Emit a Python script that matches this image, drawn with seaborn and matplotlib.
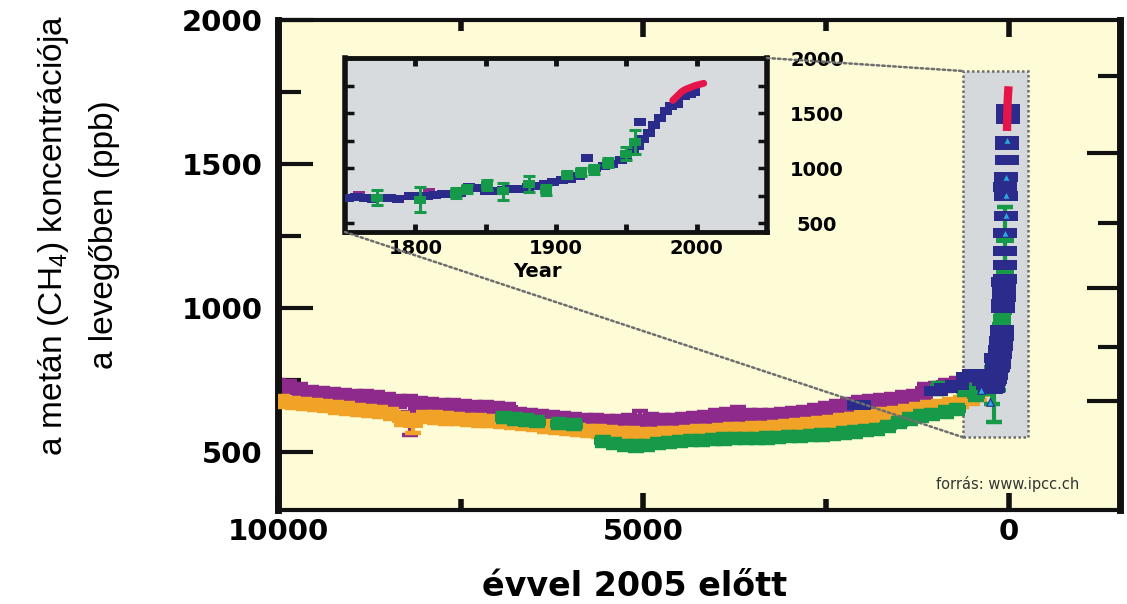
import matplotlib
matplotlib.use("Agg")
import matplotlib.pyplot as plt
from matplotlib.path import Path
from matplotlib.markers import MarkerStyle
from matplotlib.patches import Rectangle, ConnectionPatch
import pandas as pd
import seaborn as sns

# ---------------------------------------------------------------------------
# Methane records: years before 2005, concentration (ppb), error half-width
# ---------------------------------------------------------------------------
purple_bp = [10000, 9850, 9700, 9550, 9400, 9250, 9100, 8950, 8800, 8650,
             8500, 8350, 8200, 8050, 7900, 7750, 7600, 7450, 7300, 7150,
             7000, 6850, 6700, 6550, 6400, 6250, 6100, 5950, 5800, 5650,
             5500, 5350, 5200, 5050, 4900, 4750, 4600, 4450, 4300, 4150,
             4000, 3850, 3700, 3550, 3400, 3250, 3100, 2950, 2800, 2650,
             2500, 2350, 2200, 2050, 1900, 1750, 1600, 1450, 1300, 1150,
             1000, 850, 700, 580, 245, 195]
purple_ppb = [728, 726, 718, 708, 703, 700, 697, 694, 692, 688,
              684, 676, 628, 668, 665, 662, 660, 658, 656, 653,
              651, 648, 632, 628, 624, 621, 615, 612, 610, 608,
              607, 606, 610, 616, 612, 610, 611, 613, 615, 620,
              626, 630, 632, 628, 626, 628, 630, 633, 638, 644,
              650, 658, 666, 672, 676, 680, 684, 688, 694, 712,
              722, 732, 738, 742, 752, 782]
purple_err = [22, 20, 20, 20, 20, 20, 20, 20, 20, 20,
              20, 20, 68, 20, 20, 20, 20, 20, 20, 20,
              20, 20, 20, 20, 20, 20, 20, 20, 20, 20,
              20, 20, 20, 28, 20, 20, 20, 20, 20, 20,
              20, 20, 26, 20, 20, 20, 20, 20, 20, 20,
              20, 20, 20, 20, 20, 20, 20, 20, 20, 24,
              20, 20, 20, 20, 12, 12]

orange_bp = [9950, 9800, 9650, 9500, 9350, 9200, 9050, 8900, 8750, 8600,
             8450, 8300, 8150, 8000, 7850, 7700, 7550, 7400, 7250, 7100,
             6950, 6800, 6650, 6500, 6350, 6200, 6050, 5900, 5750, 5600,
             5450, 5300, 5150, 5000, 4850, 4700, 4550, 4400, 4250, 4100,
             3950, 3800, 3650, 3500, 3350, 3200, 3050, 2900, 2750, 2600,
             2450, 2300, 2150, 2000, 1850, 1700, 1550, 1400, 1250, 1100,
             950, 800, 650, 500, 400, 300]
orange_ppb = [676, 672, 668, 664, 660, 656, 652, 648, 644, 640,
              634, 616, 598, 622, 621, 618, 616, 613, 611, 608,
              606, 602, 598, 594, 590, 586, 582, 578, 575, 572,
              569, 567, 565, 564, 564, 565, 567, 569, 572, 575,
              577, 579, 581, 583, 585, 588, 591, 594, 598, 602,
              606, 611, 616, 621, 626, 631, 637, 643, 649, 655,
              661, 667, 675, 688, 705, 745]
orange_err = [18, 18, 18, 18, 18, 18, 18, 18, 18, 18,
              18, 22, 30, 18, 18, 18, 18, 18, 18, 18,
              18, 18, 18, 18, 18, 18, 18, 18, 18, 18,
              18, 18, 18, 18, 18, 18, 18, 18, 18, 18,
              18, 18, 18, 18, 18, 18, 18, 18, 18, 18,
              18, 18, 18, 18, 18, 18, 18, 18, 18, 18,
              18, 18, 18, 20, 22, 25]

green_bp = [6900, 6750, 6600, 6450, 6150, 5950, 5550, 5400, 5250, 5100,
            4950, 4800, 4650, 4500, 4350, 4200, 4050, 3900, 3750, 3600,
            3450, 3300, 3150, 3000, 2850, 2700, 2550, 2400, 2250, 2100,
            1950, 1800, 1650, 1500, 1350, 1200, 1050, 950, 850, 700,
            600, 450, 350, 232, 202, 176, 168, 154, 143, 124,
            112, 97, 87, 78, 68, 55, 49]
green_ppb = [620, 616, 612, 607, 600, 596, 538, 530, 525, 522,
             525, 531, 535, 538, 540, 542, 544, 546, 547, 548,
             549, 550, 552, 554, 556, 558, 560, 563, 567, 571,
             575, 580, 590, 603, 616, 626, 632, 722, 640, 650,
             716, 700, 722, 732, 715, 775, 810, 850, 790, 855,
             805, 940, 965, 990, 1050, 1130, 1240]
green_err = [16, 16, 16, 16, 16, 16, 16, 16, 16, 16,
             16, 16, 16, 16, 16, 16, 16, 16, 16, 16,
             16, 16, 16, 16, 16, 16, 16, 16, 16, 16,
             16, 16, 16, 16, 16, 16, 16, 20, 16, 16,
             18, 18, 18, 65, 110, 45, 40, 45, 75, 70,
             45, 30, 40, 40, 40, 60, 110]

blue_bp = [2050, 1000, 850, 700, 560, 480, 400, 330, 280,
           253, 247, 241, 235, 229, 223, 217, 209, 203, 197,
           191, 185, 179, 173, 167, 161, 155, 149, 143, 137,
           131, 125, 119, 113, 107, 101, 95, 89, 83, 77,
           71, 65, 59, 55, 50, 47, 45, 43, 39, 35,
           31, 27, 23, 19, 14, 10, 7]
blue_ppb = [665, 712, 724, 735, 760, 772, 765, 748, 735,
            725, 735, 728, 720, 730, 725, 722, 745, 750, 748,
            755, 762, 768, 772, 828, 822, 792, 796, 800, 808,
            815, 825, 840, 855, 870, 888, 905, 925, 1090, 1000,
            1015, 1040, 1075, 1100, 1150, 1200, 1420, 1260, 1320, 1390,
            1455, 1515, 1565, 1580, 1655, 1672, 1690]

cyan_bp = [380, 260, 43, 39, 35, 31, 19]
cyan_ppb = [718, 676, 1262, 1322, 1392, 1455, 1583]

red_bp = [22, 20, 18, 16, 14, 12, 10, 8, 6, 4, 2, 0]
red_ppb = [1615, 1640, 1665, 1690, 1708, 1720, 1730, 1740, 1750, 1757,
           1763, 1770]

# axis ticks
main_xticks = [10000, 5000, 0]
main_xticklabels = ["10000", "5000", "0"]
main_xminor = [7500, 2500]
main_yticks = [500, 1000, 1500, 2000]
main_yminor = [750, 1250, 1750]
forcing_major_ppb = [677, 1070, 1538]
forcing_minor_ppb = [865, 1295, 1806]
inset_xticks = [1800, 1900, 2000]
inset_xminor = [1850, 1950]
inset_yticks = [500, 1000, 1500, 2000]
inset_yminor = [750, 1250, 1750]

REF_YEAR = 2005

# ---------------------------------------------------------------------------
sns.set_style("ticks")
plt.rcParams["font.family"] = ["DejaVu Sans"]
plt.rcParams["mathtext.fontset"] = "custom"
plt.rcParams["mathtext.rm"] = "Liberation Sans"
plt.rcParams["mathtext.it"] = "Liberation Sans:italic"
plt.rcParams["mathtext.bf"] = "Liberation Sans:bold"
for key in ("text.color", "axes.labelcolor", "xtick.color", "ytick.color"):
    plt.rcParams[key] = "black"

PURPLE = "#8E2A8C"
ORANGE = "#F0A326"
GREEN = "#17994A"
BLUE = "#2B2B8C"
RED = "#E5154A"
CYAN = "#2AAAE0"
PAPER = "#FEFCD6"
INSET_BG = "#D8DBDE"
INK = "#111111"


def flat_marker(ratio):
    """Filled rectangle marker, 'ratio' = height / width."""
    h = ratio
    return MarkerStyle(Path([(-1, -h), (1, -h), (1, h), (-1, h), (-1, -h)],
                            [Path.MOVETO, Path.LINETO, Path.LINETO,
                             Path.LINETO, Path.CLOSEPOLY]))


wide = flat_marker(0.45)
wide_in = flat_marker(0.6)


def frame(bp, ppb, err=None):
    df = pd.DataFrame({"bp": bp, "ppb": ppb})
    df["year"] = REF_YEAR - df["bp"]
    df["err"] = err if err is not None else 0
    return df


purple = frame(purple_bp, purple_ppb, purple_err)
orange = frame(orange_bp, orange_ppb, orange_err)
green = frame(green_bp, green_ppb, green_err)
blue = frame(blue_bp, blue_ppb)
cyan = frame(cyan_bp, cyan_ppb)
red = frame(red_bp, red_ppb)

W, H = 1127, 604
fig = plt.figure(figsize=(W / 100, H / 100), dpi=100)
fig.patch.set_facecolor("white")

# main panel
ax = fig.add_axes([278 / W, (H - 510) / H, 842 / W, 490 / H])
ax.set_facecolor(PAPER)

# zoom region of the last centuries
ax.add_patch(Rectangle((620, 552), -885, 1271, facecolor="#D6D9DC",
                       edgecolor="#6E6E6E", linestyle=(0, (1, 1)), linewidth=1.8,
                       zorder=1))

band_series = [
    (purple, PURPLE, 15 ** 2, 2),
    (orange, ORANGE, 14 ** 2, 3),
    (green, GREEN, 13 ** 2, 4),
]
for df, color, size, z in band_series:
    ax.errorbar(df["bp"], df["ppb"], yerr=df["err"], fmt="none", ecolor=color,
                elinewidth=3, capsize=6, capthick=3.2, zorder=z)
    sns.scatterplot(data=df, x="bp", y="ppb", ax=ax, color=color, marker=wide,
                    s=size, linewidth=0, zorder=z + 0.1, legend=False)

sns.scatterplot(data=blue, x="bp", y="ppb", ax=ax, color=BLUE, marker=wide,
                s=17 ** 2, linewidth=0, zorder=5, legend=False)
sns.scatterplot(data=cyan, x="bp", y="ppb", ax=ax, color=CYAN, marker="^",
                s=30, edgecolor=BLUE, linewidth=0.8, zorder=5.5, legend=False)
sns.lineplot(data=red, x="bp", y="ppb", ax=ax, color=RED, linewidth=6,
             solid_capstyle="butt", zorder=6, legend=False)

ax.set_xlim(10000, -1525)
ax.set_ylim(300, 2000)

ax.set_xticks(main_xticks, main_xticklabels, fontsize=21, fontweight="bold")
ax.set_xticks(main_xminor, minor=True)
ax.set_yticks(main_yticks, [str(v) for v in main_yticks], fontsize=21,
              fontweight="bold")
ax.set_yticks(main_yminor, minor=True)
ax.tick_params(axis="x", which="major", direction="in", length=12.5, width=4,
               top=True, bottom=True, pad=6, color=INK)
ax.tick_params(axis="x", which="minor", direction="in", length=8, width=4,
               top=True, bottom=True, color=INK)
ax.tick_params(axis="y", which="major", direction="in", length=25, width=3,
               left=True, right=False, pad=11, color=INK)
ax.tick_params(axis="y", which="minor", direction="in", length=16.5, width=3,
               left=True, right=False, color=INK)
for side in ("left", "right"):
    ax.spines[side].set_linewidth(5)
for side in ("top", "bottom"):
    ax.spines[side].set_linewidth(3)
for sp in ax.spines.values():
    sp.set_color(INK)
ax.spines["right"].set_visible(False)

ax.set_xlabel("évvel 2005 előtt", fontsize=24, fontweight="bold")
ax.xaxis.set_label_coords(0.424, -0.122)
ax.set_ylabel("a metán (CH$_4$) koncentrációja\na levegőben (ppb)",
              fontsize=24, family="Liberation Sans", fontweight="normal",
              linespacing=1.75)
ax.yaxis.set_label_coords(-0.188, 0.561)

ax.text(0.867, 0.053, "forrás: www.ipcc.ch", transform=ax.transAxes,
        ha="center", va="center", fontsize=10.5, color="#333333")

# right-hand scale (radiative forcing ticks, unlabeled)
ax_r = ax.twinx()
ax_r.set_ylim(300, 2000)
ax_r.set_yticks(forcing_major_ppb, [""] * len(forcing_major_ppb))
ax_r.set_yticks(forcing_minor_ppb, minor=True)
ax_r.tick_params(axis="y", which="major", direction="in", length=24, width=3,
                 color=INK)
ax_r.tick_params(axis="y", which="minor", direction="in", length=16, width=3,
                 color=INK)
for side in ("left", "top", "bottom"):
    ax_r.spines[side].set_visible(False)
ax_r.spines["right"].set_linewidth(5)
ax_r.spines["right"].set_color(INK)

# inset: industrial era in calendar years
ax_in = fig.add_axes([345 / W, (H - 232) / H, 422 / W, 174 / H])
ax_in.set_facecolor(INSET_BG)


def recent(df):
    return df[df["year"] >= 1740]


sns.scatterplot(data=recent(cyan), x="year", y="ppb", ax=ax_in, color=CYAN,
                marker="^", s=10, linewidth=0, zorder=2, legend=False)
sns.scatterplot(data=recent(purple), x="year", y="ppb", ax=ax_in, color=PURPLE,
                marker=wide_in, s=9 ** 2, linewidth=0, zorder=2.5, legend=False)
sns.scatterplot(data=recent(blue), x="year", y="ppb", ax=ax_in, color=BLUE,
                marker=wide_in, s=9 ** 2, linewidth=0, zorder=3, legend=False)
g_in = recent(green)
ax_in.errorbar(g_in["year"], g_in["ppb"], yerr=g_in["err"], fmt="none",
               ecolor=GREEN, elinewidth=2.2, capsize=4.5, capthick=2.2, zorder=4)
sns.scatterplot(data=g_in, x="year", y="ppb", ax=ax_in, color=GREEN,
                marker=wide_in, s=9 ** 2, linewidth=0, zorder=4.1, legend=False)
sns.lineplot(data=red, x="year", y="ppb", ax=ax_in, color=RED, linewidth=5,
             zorder=5, legend=False)

ax_in.set_xlim(1750, 2050)
ax_in.set_ylim(420, 2000)
ax_in.set_xticks(inset_xticks, [str(v) for v in inset_xticks], fontsize=14,
                 fontweight="bold")
ax_in.set_xticks(inset_xminor, minor=True)
ax_in.set_yticks(inset_yticks, [str(v) for v in inset_yticks], fontsize=14,
                 fontweight="bold")
ax_in.set_yticks(inset_yminor, minor=True)
ax_in.tick_params(axis="x", which="both", direction="in", length=6, width=3.5,
                  top=True, bottom=True, pad=5, color=INK)
ax_in.tick_params(axis="y", which="both", direction="in", length=6.5, width=2.5,
                  left=True, right=True, labelleft=False, labelright=True,
                  pad=36, color=INK)
for lbl in ax_in.yaxis.get_majorticklabels():
    lbl.set_horizontalalignment("center")
for side in ("left", "right"):
    ax_in.spines[side].set_linewidth(4)
for side in ("top", "bottom"):
    ax_in.spines[side].set_linewidth(3.5)
for sp in ax_in.spines.values():
    sp.set_color(INK)
ax_in.set_xlabel("Year", fontsize=14, fontweight="bold")
ax_in.xaxis.set_label_coords(0.457, -0.17)
ax_in.set_ylabel("")

# dotted guides from the inset to the zoom region
for xy_in, xy_main in (((1, 1), (620, 1823)), ((0, 0), (620, 552))):
    con = ConnectionPatch(xyA=xy_in, coordsA=ax_in.transAxes,
                          xyB=xy_main, coordsB=ax.transData,
                          color="#6E6E6E", linewidth=1.8,
                          linestyle=(0, (1, 1.2)), zorder=10)
    fig.add_artist(con)

fig.savefig("out.png", dpi=100, facecolor="white")
